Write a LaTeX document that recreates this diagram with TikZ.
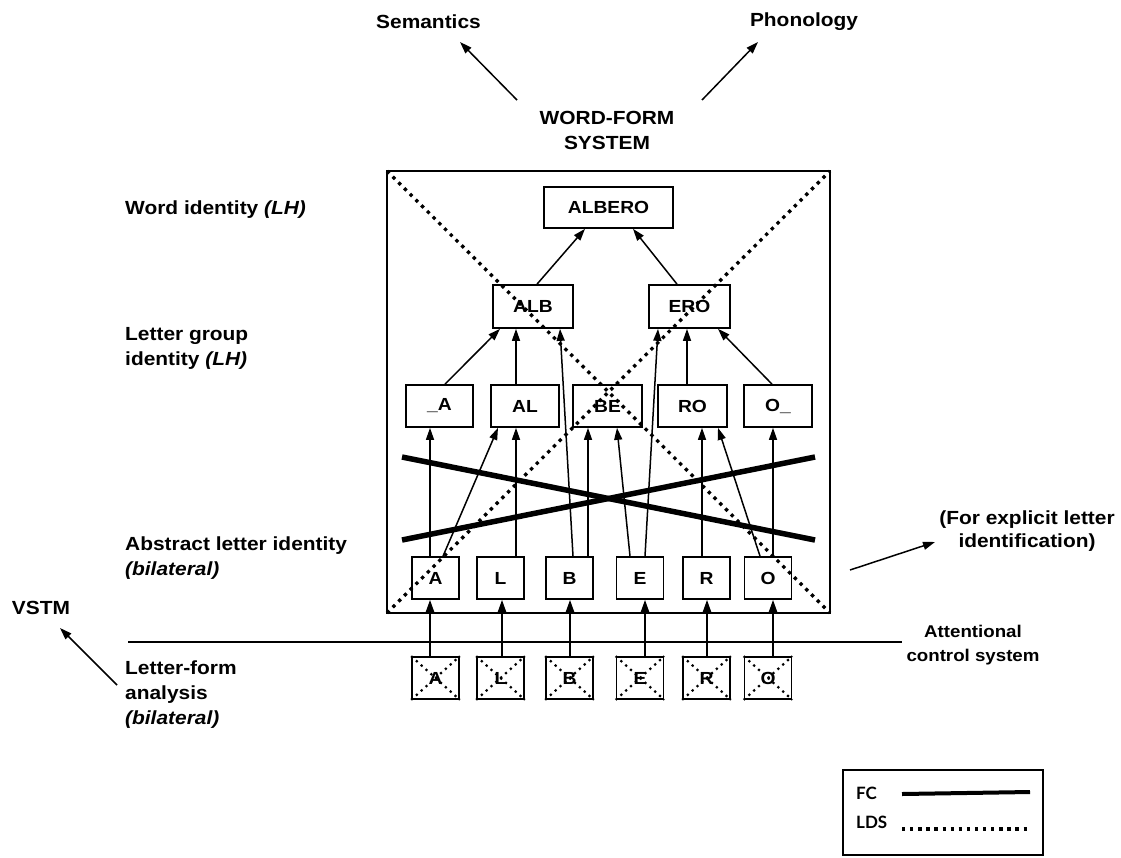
\documentclass[tikz,border=0pt]{standalone}
\usepackage{fontspec}
\setmainfont{Liberation Sans}[FakeStretch=1.1]
\newfontfamily\legendfont{Lato}
\usetikzlibrary{arrows.meta}

\begin{document}
\begin{tikzpicture}[x=1pt,y=-1pt,
    box/.style={draw,line width=1.7pt,inner sep=0pt,minimum height=42pt,font=\fontsize{17.5}{20}\selectfont\bfseries},
    lbl/.style={align=left,anchor=west,inner sep=0pt,font=\fontsize{19}{25}\selectfont\bfseries},
    arr/.style={line width=1.5pt,-{Triangle[length=12pt,width=8pt]}},
    lds/.style={line width=3.3pt,dash pattern=on 3.3pt off 4.8pt},
    ldssmall/.style={line width=2.2pt,dash pattern=on 2.2pt off 4.3pt},
    fc/.style={line width=5.5pt}]
            \useasboundingbox (0,0) rectangle (1121,857);

            \coordinate (wfNW) at (387,171);
            \coordinate (wfNE) at (830,171);
            \coordinate (wfSW) at (387,613);
            \coordinate (wfSE) at (830,613);
            \draw[line width=1.8pt] (wfNW) rectangle (wfSE);

            \node[box,minimum width=129pt,minimum height=41pt] (albero) at (608.5,207.5) {ALBERO};
            \node[box,minimum width=80pt,minimum height=43pt] (alb) at (533,306.5) {ALB};
            \node[box,minimum width=81pt,minimum height=43pt] (ero) at (689.5,306.5) {ERO};

            \node[box,minimum width=67pt] (gA) at (439.5,406) {\_A};
            \node[box,minimum width=68pt] (gAL) at (525,406) {AL};
            \node[box,minimum width=69pt] (gBE) at (607.5,406) {BE};
            \node[box,minimum width=69pt] (gRO) at (692.5,406) {RO};
            \node[box,minimum width=68pt] (gO) at (778,406) {O\_};

            \foreach \n/\x/\s in {A/435.5/-5.5, L/500.5/1.5, B/569.5/0.5, E/640/5, R/706.5/0.5, O/768/5} {
                \node[box,minimum width=47pt] (l\n) at (\x,578) {\n};
                \node[box,minimum width=47pt] (f\n) at (\x,678) {\n};
                \draw[ldssmall] (f\n.north west) -- (f\n.south east);
                \draw[ldssmall] (f\n.south west) -- (f\n.north east);
                \draw[arr,line width=1.8pt] ([xshift=\s pt]f\n.north) -- ([xshift=\s pt]l\n.south);
            }

            \draw[arr] ([xshift=-5.5pt]lA.north) -- ([xshift=-9.5pt]gA.south);
            \draw[arr] ([xshift=7.5pt]lA.north) -- ([xshift=-27pt]gAL.south);
            \draw[arr] ([xshift=15.5pt]lL.north) -- ([xshift=-9pt]gAL.south);
            \draw[arr] ([xshift=3.5pt]lB.north) -- ([xshift=27pt]alb.south);
            \draw[arr] ([xshift=18.5pt]lB.north) -- ([xshift=-19.5pt]gBE.south);
            \draw[arr] ([xshift=-10pt]lE.north) -- ([xshift=9.5pt]gBE.south);
            \draw[arr] ([xshift=5pt]lE.north) -- ([xshift=-31.5pt]ero.south);
            \draw[arr] ([xshift=-4.5pt]lR.north) -- ([xshift=9.5pt]gRO.south);
            \draw[arr] ([xshift=-8pt]lO.north) -- ([xshift=25.5pt]gRO.south);
            \draw[arr] ([xshift=5pt]lO.north) -- ([xshift=-5pt]gO.south);

            \draw[arr] ([xshift=5.5pt]gA.north) -- ([xshift=-33pt]alb.south);
            \draw[arr] ([xshift=-9pt]gAL.north) -- ([xshift=-17pt]alb.south);
            \draw[arr] ([xshift=-5.5pt]gRO.north) -- ([xshift=-2.5pt]ero.south);
            \draw[arr] ([xshift=-6pt]gO.north) -- ([xshift=28.5pt]ero.south);
            \draw[arr] ([xshift=4pt]alb.north) -- ([xshift=-23.5pt]albero.south);
            \draw[arr] ([xshift=-12.5pt]ero.north) -- ([xshift=24.5pt]albero.south);

            \coordinate (fcA) at (402,457);
            \coordinate (fcB) at (815,540);
            \coordinate (fcC) at (402,540);
            \coordinate (fcD) at (815,457);
            \draw[fc] (fcA) -- (fcB);
            \draw[fc] (fcC) -- (fcD);

            \draw[lds] (wfNW) -- (wfSE);
            \draw[lds] (wfSW) -- (wfNE);

            \coordinate (attL) at (128,642);
            \coordinate (attR) at (902,642);
            \draw[line width=1.5pt] (attL) -- (attR);

            \node[lbl,anchor=center] (sem) at (428.5,22) {Semantics};
            \node[lbl,anchor=center] (pho) at (804,22) {Phonology};
            \node[lbl,anchor=center,align=center] (wfs) at (607,130) {WORD-FORM\\SYSTEM};
            \coordinate (semT) at (517,100);
            \coordinate (semH) at (460,42);
            \coordinate (phoT) at (702,100);
            \coordinate (phoH) at (758,42);
            \draw[arr] (semT) -- (semH);
            \draw[arr] (phoT) -- (phoH);

            \node[lbl] (word) at (125,210) {Word identity \textit{(LH)}};
            \node[lbl] (group) at (125,348) {Letter group\\identity \textit{(LH)}};
            \node[lbl] (abstr) at (125,558.5) {Abstract letter identity\\\textit{(bilateral)}};
            \node[lbl] (form) at (125,695) {Letter-form\\analysis\\\textit{(bilateral)}};
            \node[lbl,anchor=center] (vstm) at (41,608) {VSTM};
            \coordinate (vstmT) at (117,685);
            \coordinate (vstmH) at (60,628);
            \draw[arr] (vstmT) -- (vstmH);

            \node[lbl,anchor=center,align=center,font=\fontsize{19}{23}\selectfont\bfseries] (expl) at (1027,531.5) {(For explicit letter\\identification)};
            \coordinate (explT) at (850,570);
            \coordinate (explH) at (935,542);
            \draw[arr] (explT) -- (explH);

            \node[lbl,anchor=center,align=center,font=\fontsize{17}{24}\selectfont\bfseries] (att) at (973,645) {Attentional\\control system};

            \coordinate (legNW) at (843,770);
            \coordinate (legSE) at (1043,855);
            \draw[line width=2.2pt] (legNW) rectangle (legSE);
            \node[anchor=west,inner sep=0pt,font=\legendfont\bfseries\fontsize{17}{18}\selectfont] (fc) at (856,793) {FC};
            \node[anchor=west,inner sep=0pt,font=\legendfont\bfseries\fontsize{17}{18}\selectfont] (ldsl) at (856,822) {LDS};
            \coordinate (fcL) at (902,794);
            \coordinate (fcR) at (1030,792);
            \coordinate (ldsL) at (902,829);
            \coordinate (ldsR) at (1030,829);
            \draw[line width=4pt] (fcL) -- (fcR);
            \draw[lds] (ldsL) -- (ldsR);
        \end{tikzpicture}
\end{document}
